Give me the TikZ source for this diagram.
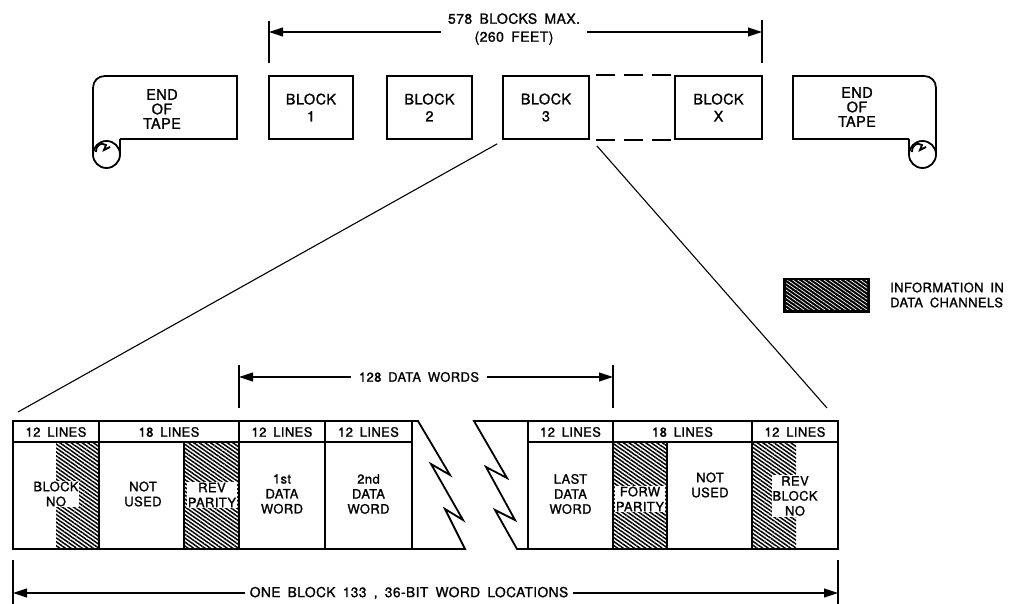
\documentclass[tikz,border=0pt]{standalone}
\usepackage{fontspec}
\setmainfont[WordSpace=1.7,FakeBold=1.2,LetterSpace=3]{TeX Gyre Heros}
\usetikzlibrary{arrows.meta,patterns.meta}
\begin{document}
\begin{tikzpicture}[x=1pt,y=-1pt,
  every node/.style={font=\fontsize{13}{15}\selectfont, align=center, inner sep=0pt},
  heavy/.style={line width=1.8pt, line join=miter},
  blk/.style={draw, line width=1.8pt, minimum height=63pt, font=\fontsize{14.5}{17}\selectfont},
  conn/.style={line width=1.1pt},
  dim/.style={line width=1.1pt, -{Triangle[length=14pt,width=9pt]}},
  tick/.style={line width=1.1pt},
  hatch/.style={pattern={Lines[angle=-35,distance=3.2pt,line width=1.5pt]}},
  knock/.style={fill=white, inner sep=1pt},
  tapetext/.style={font=\fontsize{14.5}{14.5}\selectfont},
  dashedge/.style={line width=1.8pt, dash pattern=on 19pt off 9pt, dash phase=22pt},
]
\useasboundingbox (0,0) rectangle (1013,604);

% ---------- top row ----------
\node[blk, minimum width=84pt] (b1) at (311,107.5) {BLOCK\\1};
\node[blk, minimum width=85pt] (b2) at (429.5,107.5) {BLOCK\\2};
\node[blk, minimum width=86pt] (b3) at (546,107.5) {BLOCK\\3};
\node[blk, minimum width=87pt] (bx) at (718.5,107.5) {BLOCK\\X};
\draw[dashedge] (b3.north east) -- (bx.north west);
\draw[dashedge] (b3.south east) -- (bx.south west);

% left end of tape
\draw[heavy] (120,139) -- (237,139) -- (237,76) -- (105,76)
  .. controls (98,76) and (93,81) .. (93,88) -- (93,154.5);
\draw[heavy] (106.5,154.5) circle[radius=13.5];
\draw[heavy] (120,139) -- (120,154.5);
\draw[heavy] (96,152) .. controls (96,145) and (101,142) .. (106,145) -- (104,150) -- (110,147);
\node[tapetext] (eotL) at (162,109) {END\\OF\\TAPE};

% right end of tape
\draw[heavy] (909,139) -- (793,139) -- (793,76) -- (924,76)
  .. controls (931,76) and (936,81) .. (936,88) -- (936,154.5);
\draw[heavy] (922.5,154.5) circle[radius=13.5];
\draw[heavy] (909,139) -- (909,154.5);
\draw[heavy] (912,152) .. controls (912,145) and (917,142) .. (922,145) -- (920,150) -- (926,147);
\node[tapetext] (eotR) at (857,107) {END\\OF\\TAPE};

% top dimension
\coordinate (dTL) at (269,32);
\coordinate (dTR) at (762,32);
\draw[tick] (269,21) -- (269,63);
\draw[tick] (762,20) -- (762,63);
\node[font=\fontsize{14}{18}\selectfont, inner xsep=7pt] (t578) at (514,29) {578 BLOCKS MAX.\\(260 FEET)};
\draw[dim] (t578.west |- dTL) -- (dTL);
\draw[dim] (t578.east |- dTR) -- (dTR);

% expansion lines
\coordinate (zL) at (18,412);
\coordinate (zR) at (827,408);
\draw[conn] ([shift={(-5,4)}]b3.south west) -- (zL);
\draw[conn] ([shift={(7,6)}]b3.south east) -- (zR);

% legend
\fill (783,278) rectangle (870,313);
\pattern[pattern={Lines[angle=-35,distance=3pt,line width=0.7pt]}, pattern color=white] (786,281) rectangle (867,310);
\node[anchor=west, align=left] (leg) at (890,295) {INFORMATION IN\\DATA CHANNELS};

% 128 data words dimension
\coordinate (d128L) at (239,377);
\coordinate (d128R) at (613,377);
\draw[tick] (239,365) -- (239,408);
\draw[tick] (613,365) -- (613,408);
\node[inner xsep=8pt] (t128) at (419,377) {128 DATA WORDS};
\draw[dim] (t128.west) -- (d128L);
\draw[dim] (t128.east) -- (d128R);

% ---------- lower block ----------
% hatched areas
\path[hatch] (56,442) rectangle (99,549);
\path[hatch] (184,442) rectangle (239,549);
\path[hatch] (613,442) rectangle (667,549);
\path[hatch] (752,442) rectangle (796,549);

% outlines
\draw[heavy] (418,421) -- (13,421) -- (13,549) -- (465,549) -- (445,509) -- (463,520)
  -- (431,464) -- (450,475) -- cycle;
\draw[heavy] (474,421) -- (838,421) -- (838,549) -- (517,549) -- (495,510) -- (515,520)
  -- (486,467) -- (507,478) -- cycle;
\draw[heavy] (13,442) -- (412,442);
\draw[heavy] (528,442) -- (838,442);
\foreach \x in {99,239,325,412,528,613,752} \draw[heavy] (\x,421) -- (\x,549);
\foreach \x in {184,667} \draw[heavy] (\x,442) -- (\x,549);

% header labels
\node (h1) at (56,432) {12 LINES};
\node (h2) at (169,432) {18 LINES};
\node (h3) at (282,432) {12 LINES};
\node (h4) at (368.5,432) {12 LINES};
\node (h5) at (570.5,432) {12 LINES};
\node (h6) at (682.5,432) {18 LINES};
\node (h7) at (795,432) {12 LINES};

% cell labels
\node[knock] (c1) at (56,494) {BLOCK\\NO};
\node (c2) at (143,494) {NOT\\USED};
\node[knock] (c3) at (212,495) {REV\\PARITY};
\node (c4) at (282,494) {1st\\DATA\\WORD};
\node (c5) at (368.5,494) {2nd\\DATA\\WORD};
\node (c6) at (570.5,494) {LAST\\DATA\\WORD};
\node[knock] (c7) at (640,499) {FORW\\PARITY};
\node (c8) at (710,485) {NOT\\USED};
\node[knock] (c9) at (795,496) {REV\\BLOCK\\NO};

% bottom dimension
\coordinate (dBL) at (13,593);
\coordinate (dBR) at (838,593);
\draw[tick] (13,560) -- (13,604);
\draw[tick] (838,560) -- (838,604);
\node[font=\fontsize{13.8}{15}\selectfont, inner xsep=5pt] (tone) at (409,593) {ONE BLOCK 133 , 36-BIT WORD LOCATIONS};
\draw[dim] (tone.west) -- (dBL);
\draw[dim] (tone.east) -- (dBR);
\end{tikzpicture}
\end{document}
